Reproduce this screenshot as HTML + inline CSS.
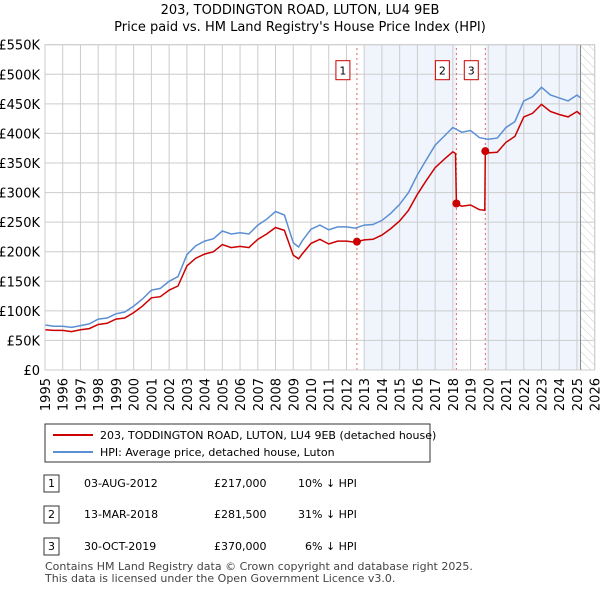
<!DOCTYPE html>
<html><head><meta charset="utf-8"><style>
body{margin:0;background:#fff;font-family:"Liberation Sans","DejaVu Sans",sans-serif;}
svg text{font-family:"DejaVu Sans","Liberation Sans",sans-serif;}
</style></head><body>
<svg id="c" width="600" height="590" xmlns="http://www.w3.org/2000/svg">
<defs><pattern id="hatch" width="6" height="6" patternUnits="userSpaceOnUse" patternTransform="rotate(-45)"><line x1="0" y1="0" x2="0" y2="6" stroke="#ccc" stroke-width="1"/></pattern></defs>
<text x="300" y="14" text-anchor="middle" font-size="13">203, TODDINGTON ROAD, LUTON, LU4 9EB</text>
<text x="300" y="31" text-anchor="middle" font-size="13">Price paid vs. HM Land Registry's House Price Index (HPI)</text>
<g id="plot"></g>
<g>
<rect x="45" y="424" width="385" height="38" fill="#fff" stroke="#333"/>
<line x1="53" y1="435" x2="93" y2="435" stroke="#cc0000" stroke-width="2"/>
<text x="100" y="439" font-size="11">203, TODDINGTON ROAD, LUTON, LU4 9EB (detached house)</text>
<line x1="53" y1="452" x2="93" y2="452" stroke="#5b8fd4" stroke-width="2"/>
<text x="100" y="456" font-size="11">HPI: Average price, detached house, Luton</text>
</g>
<g font-size="11">
<rect x="44" y="475" width="15" height="17" fill="#fff" stroke="#333"/><text x="51.5" y="487" text-anchor="middle">1</text>
<text x="84" y="487">03-AUG-2012</text><text x="214" y="487">£217,000</text><text x="298" y="487">10% ↓ HPI</text>
<rect x="44" y="506" width="15" height="17" fill="#fff" stroke="#333"/><text x="51.5" y="518" text-anchor="middle">2</text>
<text x="84" y="518">13-MAR-2018</text><text x="214" y="518">£281,500</text><text x="298" y="518">31% ↓ HPI</text>
<rect x="44" y="538" width="15" height="17" fill="#fff" stroke="#333"/><text x="51.5" y="550" text-anchor="middle">3</text>
<text x="84" y="550">30-OCT-2019</text><text x="214" y="550">£370,000</text><text x="305" y="550">6% ↓ HPI</text>
</g>
<text x="45" y="570" font-size="11" fill="#444">Contains HM Land Registry data © Crown copyright and database right 2025.</text>
<text x="45" y="582" font-size="11" fill="#444">This data is licensed under the Open Government Licence v3.0.</text>
</svg>
<script>
const hpiT=[1995,1995.5,1996,1996.5,1997,1997.5,1998,1998.5,1999,1999.5,2000,2000.5,2001,2001.5,2002,2002.5,2003,2003.5,2004,2004.5,2005,2005.5,2006,2006.5,2007,2007.5,2008,2008.5,2009,2009.3,2009.5,2010,2010.5,2011,2011.5,2012,2012.5,2013,2013.5,2014,2014.5,2015,2015.5,2016,2016.5,2017,2017.5,2018,2018.5,2019,2019.5,2020,2020.5,2021,2021.5,2022,2022.5,2023,2023.5,2024,2024.5,2025,2025.2];
const hpiV=[76,74,74,72,75,78,86,88,95,98,108,120,135,138,150,158,195,210,218,222,235,230,232,230,245,255,268,262,215,208,218,238,245,237,242,242,240,245,246,253,265,280,300,330,355,380,395,410,402,405,393,390,392,410,420,455,462,478,465,460,455,465,460];
const redT=[1995,1995.5,1996,1996.5,1997,1997.5,1998,1998.5,1999,1999.5,2000,2000.5,2001,2001.5,2002,2002.5,2003,2003.5,2004,2004.5,2005,2005.5,2006,2006.5,2007,2007.5,2008,2008.5,2009,2009.3,2009.5,2010,2010.5,2011,2011.5,2012,2012.5,2012.59,2013,2013.5,2014,2014.5,2015,2015.5,2016,2016.5,2017,2017.5,2018,2018.15,2018.2,2018.5,2019,2019.5,2019.8,2019.83,2020,2020.5,2021,2021.5,2022,2022.5,2023,2023.5,2024,2024.5,2025,2025.2];
const redV=[68,67,67,65,68,70,77,79,86,88,97,108,122,124,135,142,176,189,196,200,212,207,209,207,221,230,241,236,194,188,196,214,221,213,218,218,216,217,220,221,228,239,252,270,297,320,342,356,369,366,281.5,277,279,271,270,370,367,368,385,395,428,434,449,437,432,428,437,432];
const salesT=[2012.59,2018.2,2019.83];
const salesV=[217,281.5,370];
const salesL=["1","2","3"];
const yTicks=[0,50,100,150,200,250,300,350,400,450,500,550];
const yLabels=["£0","£50K","£100K","£150K","£200K","£250K","£300K","£350K","£400K","£450K","£500K","£550K"];
const xTicks=[1995,1996,1997,1998,1999,2000,2001,2002,2003,2004,2005,2006,2007,2008,2009,2010,2011,2012,2013,2014,2015,2016,2017,2018,2019,2020,2021,2022,2023,2024,2025,2026];
const X=t=>45+(t-1995)*(549.7/31), Y=v=>370-v*(325.3/550);
const NS="http://www.w3.org/2000/svg", g=document.getElementById('plot');
function mk(tag,a){const e=document.createElementNS(NS,tag);for(const k in a)e.setAttribute(k,a[k]);g.appendChild(e);return e;}
let e;
e=mk('rect',{x:X(2013),y:Y(550),width:X(2018.2)-X(2013),height:Y(0)-Y(550),fill:'#f0f4fc'});


e=mk('rect',{x:X(2019.83),y:Y(550),width:X(2025.2)-X(2019.83),height:Y(0)-Y(550),fill:'#f0f4fc'});


e=mk('rect',{x:X(2025.2),y:Y(550),width:X(2026)-X(2025.2),height:Y(0)-Y(550),fill:'url(#hatch)'});


yTicks.forEach((v,i)=>{
 e=mk('line',{x1:X(1995),x2:X(2026),y1:Y(v),y2:Y(v),stroke:'#ccc'});
 
 
 e=mk('text',{x:40,y:Y(v)+5,'text-anchor':'end','font-size':13});e.textContent=yLabels[i];
 
 
});
xTicks.forEach(t=>{
 e=mk('line',{x1:X(t),x2:X(t),y1:Y(0),y2:Y(550),stroke:'#ccc'});
 
 
 e=mk('text',{x:0,y:0,'font-size':13,transform:`translate(${X(t)+5},${Y(0)+8}) rotate(-90)`,'text-anchor':'end'});e.textContent=t;
 
 
});
e=mk('line',{x1:X(2025.2),x2:X(2025.2),y1:Y(0),y2:Y(550),stroke:'#888'});


salesT.forEach((t,i)=>{
 e=mk('line',{x1:X(t),x2:X(t),y1:Y(0),y2:Y(550),stroke:'#e06666','stroke-dasharray':'2,3'});
 
 
});
const pts=(T,V)=>T.map((t,i)=>X(t).toFixed(1)+','+Y(V[i]).toFixed(1)).join(' ');
e=mk('polyline',{points:pts(hpiT,hpiV),fill:'none',stroke:'#5b8fd4','stroke-width':1.5});


e=mk('polyline',{points:pts(redT,redV),fill:'none',stroke:'#cc0000','stroke-width':1.5});


salesT.forEach((t,i)=>{
 e=mk('circle',{cx:X(t),cy:Y(salesV[i]),r:4,fill:'#cc0000'});
 
 
 e=mk('rect',{x:X(t)-21,y:Y(550)+16,width:14,height:19,fill:'#fff',stroke:'#cc0000'});
 
 
 e=mk('text',{x:X(t)-14,y:Y(550)+30,'text-anchor':'middle','font-size':11});e.textContent=salesL[i];
 
 
});
e=mk('rect',{x:X(1995),y:Y(550),width:X(2026)-X(1995),height:Y(0)-Y(550),fill:'none',stroke:'#ccc'});


</script>
</body></html>
